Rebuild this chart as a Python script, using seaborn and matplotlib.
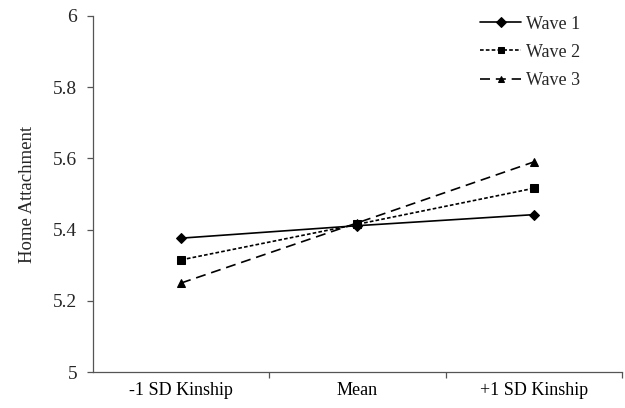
import matplotlib
matplotlib.use("Agg")
import matplotlib.pyplot as plt
import seaborn as sns
import pandas as pd
from matplotlib.ticker import FixedLocator

categories = ["-1 SD Kinship", "Mean", "+1 SD Kinship"]
wave1 = [5.376, 5.411, 5.442]
wave2 = [5.315, 5.415, 5.516]
wave3 = [5.250, 5.419, 5.590]
series_names = ["Wave 1", "Wave 2", "Wave 3"]
yticks = [5, 5.2, 5.4, 5.6, 5.8, 6]
ytick_labels = ["5", "5.2", "5.4", "5.6", "5.8", "6"]

rows = []
for name, vals in zip(series_names, [wave1, wave2, wave3]):
    for c, v in zip(categories, vals):
        rows.append({"x": c, "y": v, "wave": name})
df = pd.DataFrame(rows)

sns.set_style("white")
plt.rcParams["font.family"] = ["Liberation Serif", "DejaVu Serif"]

fig = plt.figure(figsize=(6.25, 4.08), dpi=100)
ax = fig.add_axes([0.1488, 0.0882, 0.995 - 0.1488, 0.9608 - 0.0882])

sns.lineplot(
    data=df, x="x", y="y", hue="wave", style="wave",
    palette=["black", "black", "black"],
    dashes={"Wave 1": "", "Wave 2": (2.2, 1.3), "Wave 3": (6, 3.5)},
    markers={"Wave 1": "D", "Wave 2": "s", "Wave 3": "^"},
    markersize=5.5, linewidth=1.2, sort=False, ax=ax,
    markeredgecolor="black",
)
ax.set_xlim(-0.5, 2.5)
ax.set_ylim(5, 6)
ax.set_yticks(yticks)
ax.set_yticklabels(ytick_labels)
ax.set_xticks([0, 1, 2])
ax.set_xticklabels(categories)
ax.xaxis.set_minor_locator(FixedLocator([0.5, 1.5, 2.5]))
ax.tick_params(axis="x", which="major", length=0, labelsize=13, pad=7, colors="black")
ax.tick_params(axis="x", which="minor", length=4.5, width=0.9, color="#555555", bottom=True, direction="out")
ax.tick_params(axis="y", which="major", length=4.5, width=0.9, color="#555555", labelsize=14, left=True, direction="out", pad=7)
ax.set_xlabel("")
ax.set_ylabel("Home Attachment", fontsize=13.5, labelpad=12)
for s in ["top", "right"]:
    ax.spines[s].set_visible(False)
for s in ["left", "bottom"]:
    ax.spines[s].set_color("#555555")
    ax.spines[s].set_linewidth(0.9)

handles, labels = ax.get_legend_handles_labels()
for h in handles:
    h.set_markersize(5)
ax.legend(handles, labels, loc="upper right", bbox_to_anchor=(0.952, 1.047), frameon=False,
          fontsize=13, handlelength=2.3, labelspacing=0.62, handletextpad=0.25)

fig.savefig("out.png", dpi=100)
